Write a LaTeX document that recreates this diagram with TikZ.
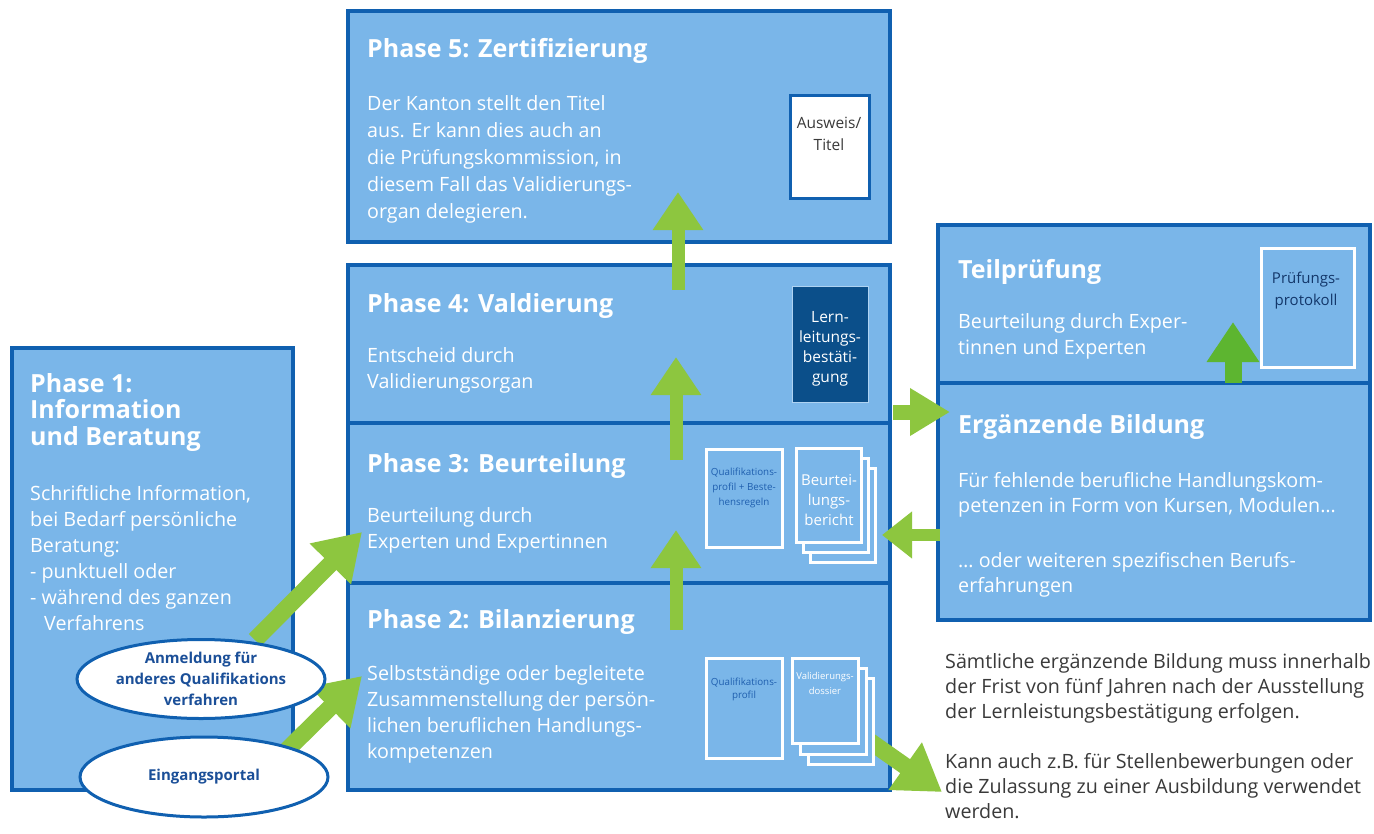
\documentclass[tikz,border=0pt]{standalone}
\usepackage{fontspec}
\setmainfont{Open Sans}
\usetikzlibrary{arrows.meta,shapes.geometric}
\definecolor{boxfill}{HTML}{7AB6E9}
\definecolor{boxline}{HTML}{1060B0}
\definecolor{darkbox}{HTML}{0B4F8A}
\definecolor{arrgreen}{HTML}{8DC63F}
\definecolor{arrgreen2}{HTML}{5DB530}
\definecolor{ellblue}{HTML}{1B4F98}
\definecolor{doctext}{HTML}{1F5FAF}
\definecolor{graytext}{HTML}{3A3A3A}
\tikzset{
  phasebox/.style={draw=boxline, fill=boxfill, line width=3.5pt, anchor=north west, inner sep=0pt, outer sep=0pt},
  ptitle/.style={anchor=base west, inner sep=0pt, text=white, font=\fontsize{25}{26.5}\selectfont\bfseries, align=left},
  pbody/.style={anchor=base west, inner sep=0pt, text=white, font=\fontsize{19.7}{26}\selectfont, align=left},
  note/.style={anchor=base west, inner sep=0pt, text=graytext, font=\fontsize{19.7}{25}\selectfont, align=left},
  greenarrow/.style={draw=arrgreen, line width=13pt, -{Triangle[width=48pt,length=38pt]}},
  diagarrow/.style={draw=arrgreen, line width=17pt, -{Triangle[width=55pt,length=45pt]}},
  docpage/.style={draw=white, fill=boxfill, line width=3pt},
  ellshape/.style={ellipse, draw=boxline, fill=white, line width=3pt, inner sep=0pt},
  elltext/.style={text=ellblue, font=\fontsize{15}{21}\selectfont\bfseries, align=center, inner sep=0pt},
  smalltext/.style={align=center, inner sep=0pt, anchor=base},
}
\begin{document}
\begin{tikzpicture}[x=1pt,y=-1pt]
\useasboundingbox (0,0) rectangle (1374,833);
\fill[white] (0,0) rectangle (1374,833);

% boxes
\node[phasebox, minimum width=281pt, minimum height=442pt] (p1) at (12,348) {};
\node[phasebox, minimum width=542pt, minimum height=231pt] (p5) at (348,11) {};
\node[phasebox, minimum width=542pt, minimum height=158pt] (p4) at (348,265) {};
\node[phasebox, minimum width=542pt, minimum height=160pt] (p3) at (348,423) {};
\node[phasebox, minimum width=542pt, minimum height=207pt] (p2) at (348,583) {};
\node[phasebox, minimum width=432pt, minimum height=158pt] (tp) at (938,225) {};
\node[phasebox, minimum width=432pt, minimum height=237pt] (eb) at (938,383) {};

% texts (anchor = baseline of the last line)
\node[ptitle] (p5t) at (367,57) {Phase 5: Zertifizierung};
\node[pbody, font=\fontsize{19.7}{27}\selectfont] (p5b) at (367,218) {Der Kanton stellt den Titel\\aus. Er kann dies auch an\\die Prüfungskommission, in\\diesem Fall das Validierungs-\\organ delegieren.};
\node[ptitle] (p4t) at (367,312) {Phase 4: Valdierung};
\node[pbody] (p4b) at (367,388) {Entscheid durch\\Validierungsorgan};
\node[ptitle] (p3t) at (367,472) {Phase 3: Beurteilung};
\node[pbody] (p3b) at (367,548) {Beurteilung durch\\Experten und Expertinnen};
\node[ptitle] (p2t) at (367,628) {Phase 2: Bilanzierung};
\node[pbody] (p2b) at (367,758) {Selbstständige oder begleitete\\Zusammenstellung der persön-\\lichen beruflichen Handlungs-\\kompetenzen};
\node[ptitle] (p1t) at (30,445) {Phase 1:\\Information\\und Beratung};
\node[pbody] (p1b) at (30,630) {Schriftliche Information,\\bei Bedarf persönliche\\Beratung:\\- punktuell oder\\- während des ganzen\\\hspace*{14pt}Verfahrens};
\node[ptitle] (tpt) at (958,278) {Teilprüfung};
\node[pbody] (tpb) at (958,354) {Beurteilung durch Exper-\\tinnen und Experten};
\node[ptitle] (ebt) at (958,433) {Ergänzende Bildung};
\node[pbody, font=\fontsize{19.7}{25}\selectfont] (ebb1) at (958,512) {Für fehlende berufliche Handlungskom-\\petenzen in Form von Kursen, Modulen…};
\node[pbody, font=\fontsize{19.7}{25}\selectfont] (ebb2) at (958,592) {… oder weiteren spezifischen Berufs-\\erfahrungen};
\node[note] (n1) at (945,718) {Sämtliche ergänzende Bildung muss innerhalb\\der Frist von fünf Jahren nach der Ausstellung\\der Lernleistungsbestätigung erfolgen.};
\node[note] (n2) at (945,818) {Kann auch z.B. für Stellenbewerbungen oder\\die Zulassung zu einer Ausbildung verwendet\\werden.};

% arrows
\coordinate (a54s) at (678,290); \coordinate (a54e) at (678,192);
\coordinate (a43s) at (676,460); \coordinate (a43e) at (676,357);
\coordinate (a32s) at (676,630); \coordinate (a32e) at (676,530);
\coordinate (ae1s) at (255,640); \coordinate (ae1e) at (362,532);
\coordinate (ae2s) at (285,752); \coordinate (ae2e) at (362,676);
\coordinate (a4es) at (893,412); \coordinate (a4ee) at (950,412);
\coordinate (ae3s) at (940,535); \coordinate (ae3e) at (882,535);
\coordinate (atps) at (1233,383); \coordinate (atpe) at (1233,322);
\coordinate (aouts) at (868,740); \coordinate (aoute) at (942,792);
\draw[greenarrow] (a54s) -- (a54e);
\draw[greenarrow] (a43s) -- (a43e);
\draw[greenarrow] (a32s) -- (a32e);
\draw[diagarrow] (ae1s) -- (ae1e);
\draw[diagarrow] (ae2s) -- (ae2e);
\draw[draw=arrgreen, line width=15pt, -{Triangle[width=45pt,length=40pt]}] (a4es) -- (a4ee);
\draw[draw=arrgreen, line width=12pt, -{Triangle[width=45pt,length=30pt]}] (ae3s) -- (ae3e);
\draw[draw=arrgreen2, line width=17pt, -{Triangle[width=50pt,length=40pt]}] (atps) -- (atpe);
\draw[diagarrow] (aouts) -- (aoute);

% ellipses
\node[ellshape, minimum width=248pt, minimum height=79pt] (e1) at (201,679) {};
\node[elltext] (e1t) at (201,679) {Anmeldung für\\anderes Qualifikations\\verfahren};
\node[ellshape, minimum width=248pt, minimum height=80pt] (e2) at (204,777) {};
\node[elltext] (e2t) at (204,777) {Eingangsportal};

% Ausweis box
\node[draw=boxline, fill=white, line width=3pt, anchor=north west, minimum width=79pt, minimum height=103pt, inner sep=0pt] (aus) at (789,94) {};
\node[smalltext, text=graytext, font=\fontsize{15.5}{22}\selectfont] (aust) at (829,150) {Ausweis/\\Titel};

% Lernleistungsbestaetigung
\node[draw=boxfill!60!white, fill=darkbox, line width=1pt, anchor=north west, minimum width=76pt, minimum height=116pt, inner sep=0pt] (lb) at (792,286) {};
\node[smalltext, text=white, font=\fontsize{15.5}{20}\selectfont] (lbt) at (830,382) {Lern-\\leitungs-\\bestäti-\\gung};

% Pruefungsprotokoll
\node[draw=white, line width=3pt, anchor=north west, minimum width=93pt, minimum height=119pt, inner sep=0pt] (pp) at (1260,247) {};
\node[smalltext, text=ellblue!70!black, font=\fontsize{15}{22}\selectfont] (ppt) at (1306,305) {Prüfungs-\\protokoll};

% Phase 3 documents
\draw[docpage] (706,449) rectangle (782,547);
\node[smalltext, text=doctext, font=\fontsize{9.8}{15}\selectfont] (q3t) at (744,505) {Qualifikations-\\profil + Beste-\\hensregeln};
\draw[docpage] (810,468) rectangle (875,562);
\draw[docpage] (803,458) rectangle (868,552);
\draw[docpage] (796,448) rectangle (861,542);
\node[smalltext, text=white, font=\fontsize{15}{20}\selectfont] (b3t) at (829,525) {Beurtei-\\lungs-\\bericht};

% Phase 2 documents
\draw[docpage] (706,658) rectangle (782,758);
\node[smalltext, text=doctext, font=\fontsize{9.8}{13}\selectfont] (q2t) at (744,698) {Qualifikations-\\profil};
\draw[docpage] (808,678) rectangle (873,764);
\draw[docpage] (800,668) rectangle (866,754);
\draw[docpage] (792,658) rectangle (858,743);
\node[smalltext, text=white, font=\fontsize{9.5}{15}\selectfont] (v2t) at (825,694) {Validierungs-\\dossier};
\end{tikzpicture}
\end{document}
